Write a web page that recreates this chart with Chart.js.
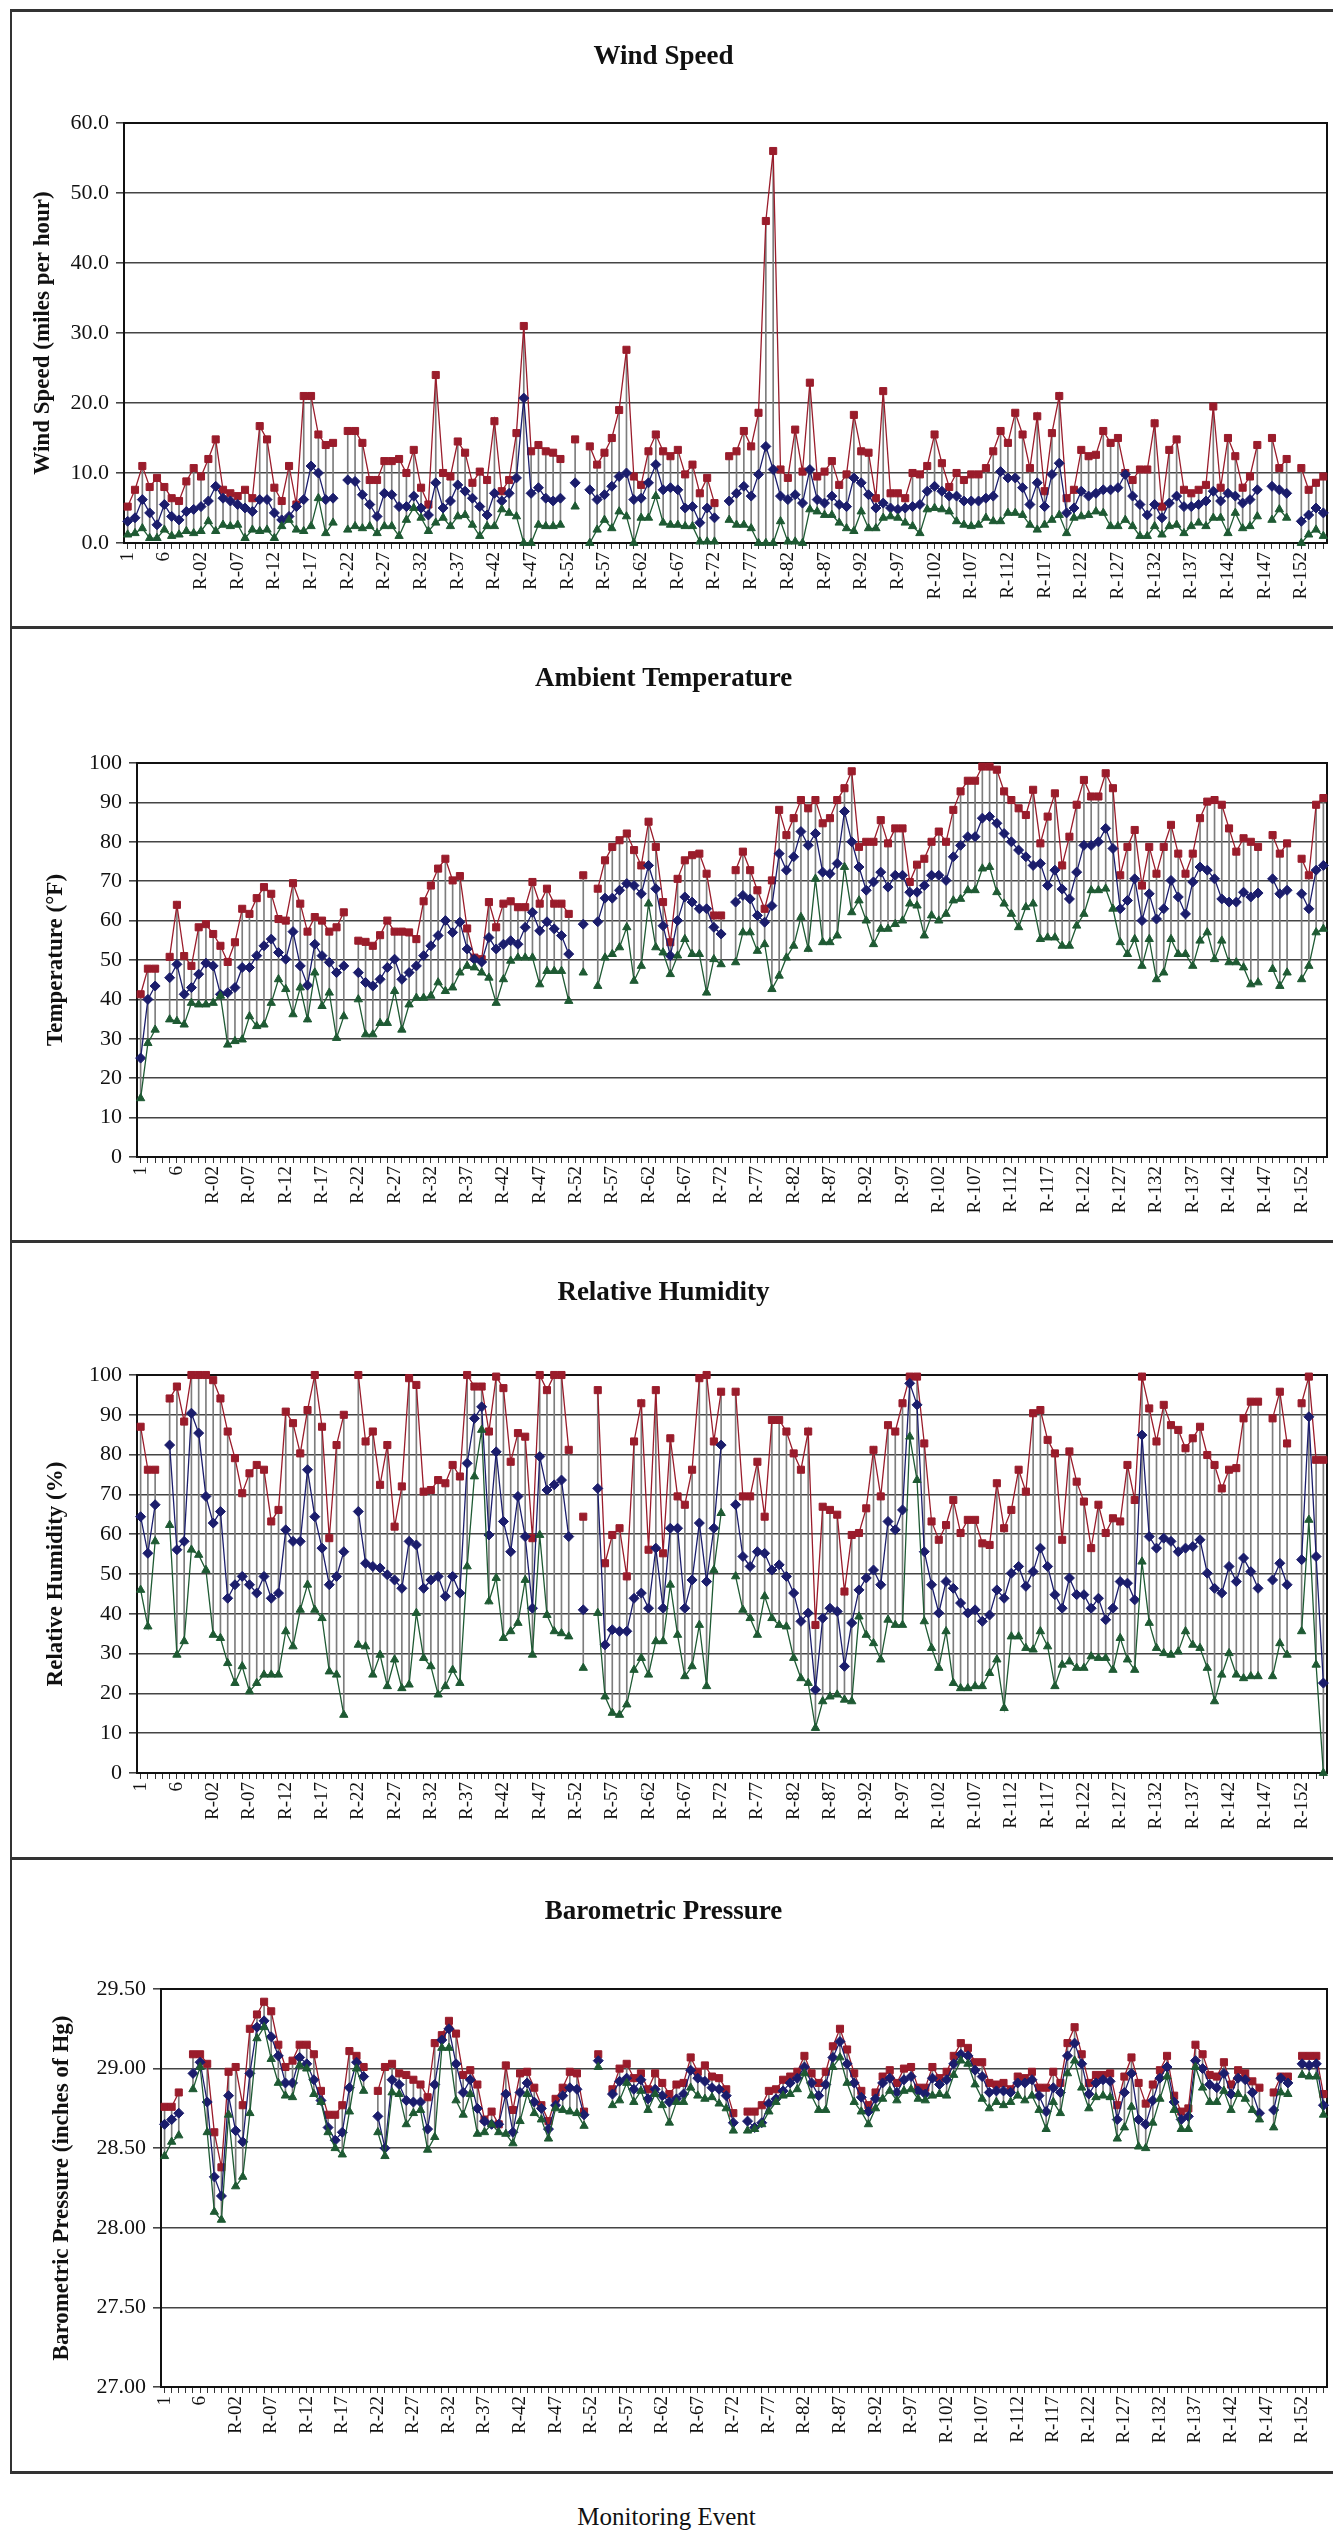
<!DOCTYPE html>
<html lang="en">
<head>
<meta charset="UTF-8">
<title>Monitoring Event Meteorological Data</title>
<script src="https://cdn.jsdelivr.net/npm/chart.js"></script>
<style>
  body { margin: 0; background: #fff; font-family: 'Liberation Serif', 'Times New Roman', serif; }
  #page { position: relative; width: 1333px; height: 2534px; overflow: hidden; background: #fff; }
  .panel { position: absolute; left: 0; width: 1333px; }
  .panel canvas { display: block; }
  .rule { position: absolute; background: #333; z-index: 2; }
  #xtitle { position: absolute; left: 0; top: 2502px; width: 1333px; text-align: center;
            font-size: 25px; line-height: 30px; color: #111; }
</style>
</head>
<body>
<div id="page">
  <div class="rule" style="left:10px; top:9px; width:1323px; height:3px;"></div>
  <div class="rule" style="left:10px; top:9px; width:2px; height:2465px;"></div>
  <div class="rule" style="left:10px; top:626px; width:1323px; height:3px;"></div>
  <div class="rule" style="left:10px; top:1240px; width:1323px; height:3px;"></div>
  <div class="rule" style="left:10px; top:1857px; width:1323px; height:3px;"></div>
  <div class="rule" style="left:10px; top:2471px; width:1323px; height:3px;"></div>
  <div id="xtitle">Monitoring Event</div>
</div>

<script>
// categories: events 1-9, then R-01 .. R-155
const eventLabels = ['1', '2', '3', '4', '5', '6', '7', '8', '9'];
for (let n = 1; n <= 155; n++) eventLabels.push('R-' + String(n).padStart(2, '0'));

// Wind speed (miles per hour)
const windMax = [
  5.2, 7.6, 11, 8, 9.3, 8, 6.4, 6, 8.8, 10.7,
  9.5, 12, 14.8, 7.6, 7.1, 6.7, 7.6, 6.4, 16.7, 14.8,
  7.9, 6, 11, 5.5, 21, 21, 15.5, 14, 14.3, null,
  16, 16, 14.3, 9, 9, 11.7, 11.7, 12, 10, 13.3,
  7.9, 5.5, 24, 10, 9.5, 14.5, 12.9, 8.6, 10.2, 9,
  17.4, 7.4, 9, 15.7, 31, 13.1, 14, 13.1, 12.9, 12,
  null, 14.8, null, 13.8, 11.2, 12.9, 15, 19, 27.6, 9.5,
  8.3, 13.1, 15.5, 13.1, 12.4, 13.3, 9.8, 11.2, 7.1, 9.3,
  5.7, null, 12.4, 13.1, 16, 13.8, 18.6, 46, 56, 10.5,
  9.3, 16.2, 10.2, 22.9, 9.5, 10.2, 11.7, 8.3, 9.8, 18.3,
  13.1, 12.9, 6.4, 21.7, 7.1, 7.1, 6.4, 10, 9.8, 11,
  15.5, 11.4, 8, 10, 9, 9.8, 9.8, 10.7, 13.1, 16,
  14.3, 18.6, 15.5, 10.7, 18.1, 7.4, 15.7, 21, 6.4, 7.6,
  13.3, 12.4, 12.6, 16, 14.3, 15, 10, 9, 10.5, 10.5,
  17.1, 5.2, 13.3, 14.8, 7.6, 7.1, 7.6, 8.3, 19.5, 7.9,
  15, 12.4, 7.9, 9.5, 14, null, 15, 10.7, 12, null,
  10.7, 7.6, 8.6, 9.5
];
const windAvg = [
  3.1, 3.6, 6.2, 4.3, 2.6, 5.5, 3.8, 3.3, 4.5, 4.8,
  5.2, 6, 8.1, 6.4, 6, 5.5, 5, 4.5, 6.2, 6.2,
  4.3, 3.3, 3.8, 5.2, 6.2, 11, 10, 6.2, 6.4, null,
  9, 8.8, 6.9, 5.5, 3.8, 7.1, 6.9, 5.2, 5.2, 6.7,
  5, 4, 8.6, 5, 6, 8.3, 7.4, 6.4, 5.2, 4,
  7.1, 6, 7.1, 9.3, 20.7, 7.1, 7.9, 6.4, 6, 6.4,
  null, 8.6, null, 7.6, 6.2, 6.9, 8.1, 9.5, 10, 6.2,
  6.4, 8.6, 11.2, 7.6, 7.9, 7.6, 5, 5.2, 2.9, 5,
  3.6, null, 6, 7.1, 8.1, 6.7, 9.8, 13.8, 10.5, 6.7,
  6.2, 6.9, 5.7, 10.5, 6.2, 5.7, 6.7, 5.5, 5.2, 9.3,
  8.6, 6.9, 5, 5.7, 5, 4.8, 5, 5.2, 5.5, 7.4,
  8.1, 7.4, 6.7, 6.7, 6, 6, 6, 6.4, 6.7, 10.2,
  9.3, 9.3, 7.9, 5.5, 8.6, 5.2, 9.8, 11.4, 4.3, 5,
  7.4, 6.7, 7.1, 7.6, 7.6, 7.9, 9.8, 6.7, 5.5, 4,
  5.5, 3.6, 5.7, 6.7, 5.2, 5.2, 5.5, 6, 7.4, 6,
  7.1, 6.7, 5.7, 6.2, 7.6, null, 8.1, 7.6, 7.1, null,
  3.1, 4, 5, 4.3
];
const windMin = [
  1.2, 1.4, 2.1, 0.7, 0.7, 1.9, 1, 1.2, 1.7, 1.4,
  1.7, 3.1, 1.7, 2.6, 2.4, 2.6, 0.7, 1.9, 1.7, 1.9,
  0.7, 2.4, 3.3, 1.9, 1.7, 2.4, 6.4, 1.4, 2.9, null,
  1.9, 2.4, 2.1, 2.4, 1.4, 2.4, 2.4, 1, 3.3, 5,
  3.6, 1.7, 2.9, 3.6, 2.4, 3.8, 4, 2.6, 1, 2.4,
  2.4, 4.8, 4.3, 3.8, 0, 0, 2.6, 2.4, 2.4, 2.6,
  null, 5.2, null, 0, 1.9, 3.3, 2.1, 4.5, 3.8, 0,
  3.6, 3.6, 6.7, 2.9, 2.6, 2.6, 2.4, 2.4, 0.2, 0.2,
  0.2, null, 3.3, 2.6, 2.6, 2.1, 0, 0, 0, 3.1,
  0.2, 0.2, 0, 4.8, 4.5, 4, 4, 2.9, 2.1, 1.7,
  4.5, 2.1, 2.1, 3.6, 3.8, 3.6, 2.9, 2.4, 1.4, 4.8,
  5, 4.8, 4.5, 3.1, 2.6, 2.4, 2.6, 3.6, 3.1, 3.1,
  4.3, 4.3, 4, 2.6, 1.9, 2.6, 3.3, 4, 1.4, 3.6,
  3.8, 4, 4.5, 4.3, 2.4, 2.4, 3.3, 2.4, 1, 1,
  2.4, 1.2, 2.4, 2.6, 1.4, 2.4, 2.9, 2.4, 3.6, 3.6,
  1.4, 4.3, 2.1, 2.4, 3.8, null, 3.3, 4.8, 3.6, null,
  0, 1.2, 1.9, 1
];

// Ambient temperature (deg F)
const tempMax = [
  41.3, 47.8, 47.8, null, 50.8, 64, 51, 48.5, 58.3, 59.1,
  56.6, 53.6, 49.5, 54.5, 63, 61.7, 65.7, 68.5, 66.8, 60.4,
  60, 69.5, 64.3, 57.2, 60.9, 60, 57.2, 58.3, 62.1, null,
  54.9, 54.6, 53.6, 56.3, 60, 57.2, 57.2, 57, 55.3, 64.9,
  68.9, 73.2, 75.7, 70.2, 71.3, 58, 50.6, 50.2, 64.7, 58.3,
  64.3, 64.9, 63.4, 63.4, 69.8, 64.3, 68.1, 64.3, 64.3, 61.7,
  null, 71.5, null, 68.1, 75.3, 78.7, 80.4, 82.1, 77.9, 74,
  85.1, 78.7, 64.7, 54.5, 70.6, 75.3, 76.6, 77, 71.9, 61.3,
  61.3, null, 72.8, 77.5, 72.8, 67.7, 63, 70.2, 88.1, 81.7,
  86, 90.6, 88.5, 90.6, 84.7, 86, 90.6, 93.6, 97.9, 78.7,
  80, 80, 85.5, 79.6, 83.4, 83.4, 69.8, 74.2, 75.7, 80,
  82.6, 80, 88.1, 92.8, 95.5, 95.5, 99.1, 99.1, 98.3, 92.8,
  90.6, 88.5, 86.8, 93.2, 79.6, 86.4, 92.3, 74, 81.3, 89.4,
  95.7, 91.5, 91.5, 97.4, 93.6, 71.5, 78.7, 83, 68.9, 78.7,
  71.9, 78.7, 84.3, 77, 71.9, 77, 86, 90.2, 90.6, 89.4,
  83.4, 77.5, 80.9, 80, 78.7, null, 81.7, 77, 79.6, null,
  75.7, 71.5, 89.4, 91.1
];
const tempAvg = [
  25.1, 40, 43.4, null, 45.5, 48.9, 41.3, 43, 46.4, 49.2,
  48.5, 41.3, 41.7, 43, 48.1, 48.1, 51.1, 53.6, 55.3, 51.9,
  50.2, 57.2, 48.5, 43.6, 54, 51.1, 49.4, 46.8, 48.5, null,
  46.8, 44.3, 43.4, 45.1, 48.1, 50.2, 45.1, 46.8, 48.5, 51.1,
  53.6, 56.2, 60, 57, 59.6, 52.8, 50.2, 49.5, 55.7, 52.8,
  54, 54.9, 54, 58.3, 62.1, 57.4, 59.7, 57.9, 56.2, 51.5,
  null, 59.1, null, 59.7, 65.7, 65.7, 67.7, 69.4, 68.9, 66.8,
  74, 68.1, 58.7, 51.1, 60, 66, 64.7, 63, 63, 58.3,
  56.6, null, 64.7, 66.4, 65.5, 61.3, 59.6, 63.8, 77, 72.8,
  76.2, 82.6, 79.1, 82.1, 72.3, 71.9, 74.5, 87.7, 80, 73.6,
  67.7, 69.8, 72.3, 68.5, 71.5, 71.5, 67.2, 67.2, 68.9, 71.5,
  71.5, 70.2, 76.2, 79.1, 81.3, 81.3, 86, 86.4, 84.7, 82.1,
  80, 77.9, 76.2, 74, 74.5, 68.9, 72.8, 68, 65.5, 72.3,
  79.1, 79.1, 80, 83.4, 78.3, 63, 65.1, 70.6, 60, 66.8,
  60.4, 63, 70.2, 66, 61.7, 69.8, 73.6, 72.8, 70.6, 65.5,
  64.7, 64.7, 67.2, 66, 67, null, 70.6, 66.8, 67.7, null,
  66.8, 63, 72.8, 74
];
const tempMin = [
  14.9, 28.9, 32.3, null, 34.9, 34.5, 33.6, 39.1, 38.7, 38.7,
  39.1, 40.9, 28.5, 29.4, 29.8, 35.7, 33.2, 33.6, 39.1, 45.1,
  42.6, 36.2, 43, 34.9, 46.8, 38.3, 41.7, 30.2, 35.7, null,
  40, 31.1, 31.1, 34, 34, 42.1, 32.3, 38.7, 40.4, 40.4,
  40.9, 44.3, 42.1, 43, 46.8, 48.5, 48.1, 46.8, 45.5, 39.1,
  45.1, 49.8, 50.6, 50.6, 50.6, 43.8, 47.2, 47.2, 47.2, 39.6,
  null, 46.8, null, 43.4, 50.6, 51.5, 53.2, 58.3, 44.7, 48.5,
  64.3, 53.2, 51.9, 46.4, 51.1, 55.3, 51.5, 51.5, 41.7, 50.2,
  48.9, null, 49.4, 57, 57, 52.3, 54, 42.6, 46, 50.6,
  53.6, 60.9, 52.8, 70.6, 54.5, 54.5, 56.2, 73.6, 62.1, 65.1,
  60, 54, 57.9, 57.9, 59.1, 60, 64.3, 63.8, 56.2, 61.3,
  60, 61.7, 65.1, 65.5, 67.7, 67.7, 73.2, 73.6, 67.2, 64.3,
  61.7, 58.3, 63.4, 64.3, 55.3, 55.7, 55.7, 53.6, 53.6, 58.7,
  61.7, 67.7, 67.7, 68.1, 63, 54.5, 51.5, 55.3, 48.5, 55.3,
  45.1, 46.8, 55.3, 51.5, 51.5, 48.5, 54.9, 57, 50.2, 54.9,
  49.4, 49.4, 48.1, 43.8, 44.3, null, 47.7, 43.4, 46.8, null,
  45.1, 48.5, 57, 57.9
];

// Relative humidity (%)
const humMax = [
  87, 76.2, 76.2, null, 94.1, 97.1, 88.3, 100, 100, 100,
  98.7, 94.1, 85.8, 79.1, 70.3, 75.3, 77.4, 76.2, 63.2, 66.1,
  90.8, 87.9, 80.3, 91.2, 100, 87, 59, 82.4, 90, null,
  100, 83.3, 85.8, 72.4, 82.4, 61.9, 72, 99.2, 97.5, 70.7,
  71.1, 73.6, 72.8, 77.4, 74.5, 100, 97.1, 97.1, 85.8, 99.6,
  96.7, 78.2, 85.4, 84.5, 59, 100, 96.2, 100, 100, 81.2,
  null, 64.4, null, 96.2, 52.7, 59.8, 61.5, 49.4, 83.3, 92.9,
  56.1, 96.2, 55.2, 84.1, 69.5, 67.4, 76.2, 99.2, 100, 83.3,
  95.8, null, 95.8, 69.5, 69.5, 78.2, 64.4, 88.7, 88.7, 85.8,
  80.3, 76.2, 85.8, 37.2, 66.9, 66.1, 64.9, 45.6, 59.8, 60.3,
  66.5, 81.2, 69.5, 87.4, 85.8, 92.9, 99.6, 99.6, 82.8, 63.2,
  58.6, 62.3, 68.6, 60.3, 63.6, 63.6, 57.7, 57.3, 72.8, 61.5,
  66.1, 76.2, 70.7, 90.4, 91.2, 83.7, 80.3, 58.6, 80.8, 73.2,
  68.2, 56.5, 67.4, 60.3, 64, 63.2, 77.4, 68.6, 99.6, 91.6,
  83.3, 92.5, 87.4, 86.2, 81.6, 84.1, 87, 79.9, 77.4, 71.5,
  76.2, 76.6, 89.1, 93.3, 93.3, null, 89.1, 95.8, 82.8, null,
  92.9, 99.6, 78.7, 78.7
];
const humAvg = [
  64.4, 55.2, 67.4, null, 82.4, 56.1, 58.2, 90.4, 85.4, 69.5,
  62.8, 65.7, 43.9, 47.3, 49.4, 47.3, 45.2, 49.4, 43.9, 45.2,
  61.1, 58.2, 58.2, 76.2, 64.4, 56.5, 47.3, 49.4, 55.6, null,
  65.7, 52.7, 51.9, 51.5, 49.8, 48.5, 46.4, 58.2, 57.3, 46.4,
  48.5, 49.4, 44.4, 49.4, 45.2, 77.8, 89.1, 92, 59.8, 80.7,
  63.2, 55.6, 69.5, 59.4, 41.4, 79.5, 71.1, 72.4, 73.6, 59.4,
  null, 41, null, 71.5, 32.2, 36, 35.6, 35.6, 43.9, 45.2,
  41.4, 56.5, 41.4, 61.5, 61.5, 41.4, 48.5, 62.8, 48.1, 61.5,
  82.4, null, 67.4, 54.4, 51.9, 55.6, 55.2, 51, 52.3, 49.4,
  45.2, 38.1, 40.2, 20.9, 38.9, 41.4, 40.6, 26.8, 37.7, 46,
  49, 51, 47.3, 63.2, 61.1, 66.1, 97.9, 92.5, 55.6, 47.3,
  40.2, 48.1, 46.4, 42.7, 40.2, 41, 38.1, 39.7, 46, 43.9,
  50.2, 51.9, 46.9, 50.6, 56.5, 51.9, 44.8, 41.4, 49, 44.8,
  44.8, 41.4, 43.9, 38.5, 41.4, 48.1, 47.7, 43.5, 84.9, 59.4,
  56.5, 59, 58.2, 55.6, 56.5, 56.9, 58.6, 50.2, 46.4, 45.2,
  51.9, 48.1, 54, 50.6, 46.4, null, 48.5, 52.7, 47.3, null,
  53.6, 89.5, 54.4, 22.6
];
const humMin = [
  46, 36.8, 58.2, null, 62.3, 29.7, 33.1, 56.1, 54.8, 51,
  34.7, 33.9, 27.6, 22.6, 26.8, 20.5, 22.6, 24.7, 24.7, 24.7,
  35.6, 31.8, 41, 47.3, 41, 38.9, 25.5, 24.7, 14.6, null,
  32.2, 31.8, 24.7, 29.7, 21.8, 28.5, 21.3, 22.2, 40.2, 28.9,
  26.8, 19.7, 21.8, 25.9, 22.6, 51.9, 74.5, 86.2, 43.1, 49,
  33.9, 35.6, 37.7, 48.5, 29.7, 59.8, 39.7, 35.6, 35.1, 34.3,
  null, 26.4, null, 40.2, 19.2, 15.1, 14.6, 17.2, 25.9, 28.9,
  24.7, 33.1, 33.1, 47.3, 34.7, 24.3, 26.8, 37.2, 21.8, 51,
  65.3, null, 49.4, 41, 38.9, 34.7, 44.4, 38.9, 37.2, 36.8,
  28.9, 23.8, 22.6, 11.3, 18, 19.2, 19.7, 18.4, 18, 39.3,
  34.7, 32.6, 28.5, 38.5, 37.2, 37.2, 84.5, 73.6, 38.1, 31.4,
  26.4, 35.6, 22.6, 21.3, 21.3, 21.8, 21.8, 25.1, 28.5, 16.3,
  34.3, 34.3, 31.4, 31, 35.6, 31.8, 21.8, 27.2, 28, 26.4,
  26.4, 29.3, 28.9, 28.9, 25.9, 33.9, 28.5, 25.9, 53.1, 37.7,
  31.4, 30.1, 29.7, 30.5, 35.6, 32.2, 31.4, 26.4, 18, 24.7,
  30.1, 24.7, 23.8, 24.3, 24.3, null, 24.3, 32.6, 29.7, null,
  35.6, 63.6, 27.2, 0
];

// Barometric pressure (inches of Hg)
const pressMax = [
  28.76, 28.76, 28.85, null, 29.09, 29.09, 29.03, 28.60, 28.38, 28.98,
  29.01, 28.77, 29.25, 29.34, 29.42, 29.36, 29.15, 29.01, 29.05, 29.15,
  29.15, 29.09, 28.86, 28.71, 28.71, 28.77, 29.11, 29.08, 29.01, null,
  28.86, 29.01, 29.03, 28.97, 28.96, 28.93, 28.90, 28.82, 29.16, 29.21,
  29.30, 29.22, 28.96, 28.99, 28.90, 28.68, 28.73, 28.65, 29.02, 28.74,
  28.97, 28.98, 28.88, 28.77, 28.67, 28.81, 28.88, 28.98, 28.97, 28.73,
  null, 29.09, null, 28.87, 29.00, 29.03, 28.94, 28.97, 28.87, 28.97,
  28.91, 28.84, 28.90, 28.91, 29.07, 28.98, 29.02, 28.95, 28.94, 28.87,
  28.72, null, 28.73, 28.73, 28.77, 28.86, 28.87, 28.93, 28.95, 28.98,
  29.08, 28.97, 28.91, 28.98, 29.14, 29.25, 29.12, 28.97, 28.86, 28.77,
  28.85, 28.95, 28.99, 28.91, 29.00, 29.01, 28.88, 28.88, 29.01, 28.94,
  28.98, 29.08, 29.16, 29.13, 29.04, 29.04, 28.91, 28.90, 28.91, 28.87,
  28.95, 28.94, 28.98, 28.88, 28.88, 28.98, 28.91, 29.16, 29.26, 29.09,
  28.91, 28.96, 28.96, 28.97, 28.77, 28.95, 29.07, 28.91, 28.78, 28.90,
  28.99, 29.08, 28.83, 28.73, 28.75, 29.15, 29.09, 28.96, 28.95, 29.04,
  28.90, 28.99, 28.97, 28.92, 28.88, null, 28.85, 28.95, 28.95, null,
  29.08, 29.08, 29.08, 28.84
];
const pressAvg = [
  28.65, 28.68, 28.72, null, 28.97, 29.04, 28.79, 28.32, 28.20, 28.83,
  28.61, 28.54, 28.97, 29.26, 29.30, 29.20, 29.08, 28.91, 28.91, 29.07,
  29.03, 28.93, 28.80, 28.63, 28.55, 28.60, 28.88, 29.04, 28.95, null,
  28.70, 28.50, 28.93, 28.90, 28.80, 28.79, 28.79, 28.62, 28.90, 29.18,
  29.25, 29.03, 28.85, 28.93, 28.75, 28.67, 28.65, 28.65, 28.84, 28.60,
  28.85, 28.91, 28.79, 28.75, 28.62, 28.77, 28.83, 28.88, 28.87, 28.71,
  null, 29.05, null, 28.84, 28.92, 28.94, 28.87, 28.93, 28.81, 28.87,
  28.83, 28.79, 28.81, 28.84, 28.99, 28.94, 28.92, 28.88, 28.87, 28.83,
  28.66, null, 28.67, 28.63, 28.66, 28.78, 28.81, 28.86, 28.91, 28.94,
  29.01, 28.91, 28.83, 28.90, 29.07, 29.17, 29.03, 28.91, 28.82, 28.73,
  28.81, 28.91, 28.94, 28.85, 28.93, 28.95, 28.86, 28.84, 28.94, 28.90,
  28.93, 29.03, 29.09, 29.08, 28.99, 28.95, 28.85, 28.86, 28.86, 28.85,
  28.91, 28.91, 28.93, 28.83, 28.73, 28.88, 28.85, 29.08, 29.16, 29.03,
  28.84, 28.91, 28.93, 28.92, 28.68, 28.85, 28.97, 28.68, 28.65, 28.80,
  28.94, 29.01, 28.79, 28.68, 28.70, 29.05, 29.00, 28.90, 28.88, 28.97,
  28.84, 28.94, 28.93, 28.85, 28.72, null, 28.74, 28.94, 28.91, null,
  29.03, 29.02, 29.03, 28.77
];
const pressMin = [
  28.45, 28.54, 28.58, null, 28.87, 29.01, 28.60, 28.10, 28.05, 28.71,
  28.26, 28.32, 28.72, 29.19, 29.26, 29.06, 28.91, 28.83, 28.82, 29.02,
  29.00, 28.84, 28.79, 28.60, 28.50, 28.46, 28.73, 29.00, 28.86, null,
  28.60, 28.45, 28.85, 28.84, 28.65, 28.72, 28.74, 28.49, 28.57, 29.13,
  29.13, 28.80, 28.71, 28.84, 28.59, 28.60, 28.65, 28.60, 28.59, 28.53,
  28.67, 28.84, 28.72, 28.68, 28.56, 28.75, 28.74, 28.73, 28.72, 28.64,
  null, 29.01, null, 28.77, 28.80, 28.91, 28.79, 28.86, 28.74, 28.84,
  28.77, 28.66, 28.79, 28.79, 28.88, 28.83, 28.81, 28.82, 28.78, 28.75,
  28.61, null, 28.61, 28.62, 28.65, 28.73, 28.79, 28.83, 28.84, 28.87,
  28.97, 28.83, 28.74, 28.74, 29.01, 29.07, 28.91, 28.79, 28.73, 28.65,
  28.75, 28.81, 28.86, 28.80, 28.86, 28.87, 28.81, 28.80, 28.83, 28.84,
  28.83, 28.96, 29.05, 29.03, 28.90, 28.81, 28.75, 28.79, 28.77, 28.79,
  28.83, 28.80, 28.83, 28.74, 28.62, 28.79, 28.72, 28.97, 29.05, 28.88,
  28.75, 28.82, 28.83, 28.82, 28.56, 28.63, 28.76, 28.51, 28.50, 28.66,
  28.81, 28.95, 28.74, 28.62, 28.62, 29.01, 28.88, 28.79, 28.79, 28.86,
  28.74, 28.84, 28.81, 28.74, 28.68, null, 28.63, 28.85, 28.84, null,
  28.96, 28.95, 28.95, 28.71
];

const SERIF = "'Liberation Serif', 'Times New Roman', Times, serif";
const RED = '#9a1c2b';
const BLUE = '#1b1d6c';
const GREEN = '#1e5a33';
const PLOT_RIGHT = 1327;

const panels = [
  { title: 'Wind Speed', yTitle: 'Wind Speed (miles per hour)',
    hi: windMax, mid: windAvg, lo: windMin, yMin: 0, yMax: 60, yStep: 10, decimals: 1,
    boxTop: 12, boxBottom: 626, titleY: 57, plotTop: 123, plotBottom: 543, plotLeft: 124, yTitleX: 43 },
  { title: 'Ambient Temperature', yTitle: 'Temperature (°F)',
    hi: tempMax, mid: tempAvg, lo: tempMin, yMin: 0, yMax: 100, yStep: 10, decimals: 0,
    boxTop: 629, boxBottom: 1240, titleY: 679, plotTop: 763, plotBottom: 1157, plotLeft: 137, yTitleX: 56 },
  { title: 'Relative Humidity', yTitle: 'Relative Humidity (%)',
    hi: humMax, mid: humAvg, lo: humMin, yMin: 0, yMax: 100, yStep: 10, decimals: 0,
    boxTop: 1243, boxBottom: 1857, titleY: 1293, plotTop: 1375, plotBottom: 1773, plotLeft: 137, yTitleX: 56 },
  { title: 'Barometric Pressure', yTitle: 'Barometric Pressure (inches of Hg)',
    hi: pressMax, mid: pressAvg, lo: pressMin, yMin: 27, yMax: 29.5, yStep: 0.5, decimals: 2,
    boxTop: 1860, boxBottom: 2471, titleY: 1912, plotTop: 1989, plotBottom: 2387, plotLeft: 161, yTitleX: 62 }
];

// black border round the plot area
const plotFrame = {
  id: 'plotFrame',
  beforeDatasetsDraw(chart) {
    const { ctx, chartArea: a } = chart;
    ctx.save();
    ctx.strokeStyle = '#111';
    ctx.lineWidth = 2;
    ctx.strokeRect(a.left, a.top, a.right - a.left, a.bottom - a.top);
    ctx.restore();
  }
};

function lineSet(label, data, color, style, order) {
  return {
    type: 'line', label: label, data: data, order: order,
    borderColor: color, backgroundColor: color, borderWidth: 1.3,
    pointStyle: style, pointRadius: style === 'triangle' ? 4.8 : 5,
    pointBorderColor: color, pointBackgroundColor: color, pointBorderWidth: 1,
    spanGaps: false, tension: 0, clip: false
  };
}

const page = document.getElementById('page');

panels.forEach(p => {
  const box = document.createElement('div');
  box.className = 'panel';
  box.style.top = p.boxTop + 'px';
  box.style.height = (p.boxBottom - p.boxTop) + 'px';
  const canvas = document.createElement('canvas');
  box.appendChild(canvas);
  page.appendChild(box);

  const titleSize = 27, titleLH = titleSize * 1.2;
  const padTop = p.titleY - p.boxTop - titleLH / 2;
  const padBottom = p.plotTop - p.boxTop - padTop - titleLH;
  const yTitleLH = 23 * 1.2;

  // high-low lines between maximum and minimum
  const range = p.hi.map((v, i) => (v == null || p.lo[i] == null) ? null : [p.lo[i], v]);

  new Chart(canvas, {
    data: {
      labels: eventLabels,
      datasets: [
        { type: 'bar', label: 'Range', data: range, backgroundColor: '#7d7d7d',
          barThickness: 1, borderWidth: 0, order: 4 },
        lineSet('Maximum', p.hi, RED, 'rect', 3),
        lineSet('Average', p.mid, BLUE, 'rectRot', 2),
        lineSet('Minimum', p.lo, GREEN, 'triangle', 1)
      ]
    },
    options: {
      responsive: true,
      maintainAspectRatio: false,
      animation: false,
      layout: { padding: { left: 0, right: 1333 - PLOT_RIGHT, top: 0, bottom: 0 } },
      plugins: {
        legend: { display: false },
        tooltip: { enabled: false },
        title: {
          display: true, text: p.title, color: '#111',
          font: { family: SERIF, size: titleSize, weight: 'bold', lineHeight: 1.2 },
          padding: { top: padTop, bottom: padBottom }
        }
      },
      scales: {
        x: {
          offset: true,
          grid: { display: true, drawOnChartArea: false, drawTicks: true, tickLength: 6,
                  color: '#333', lineWidth: 1, offset: false },
          border: { display: true, color: '#111', width: 2 },
          ticks: {
            autoSkip: false, maxRotation: 90, minRotation: 90, padding: 3, color: '#111',
            font: { family: SERIF, size: 19 },
            callback: (v, i) => i % 5 === 0 ? eventLabels[i] : ''
          },
          afterFit: s => { s.height = p.boxBottom - p.plotBottom; s.paddingLeft = 0; s.paddingRight = 0; }
        },
        y: {
          min: p.yMin, max: p.yMax,
          grid: { color: '#444', lineWidth: 1.6, tickLength: 8 },
          border: { display: true, color: '#111', width: 2 },
          ticks: {
            stepSize: p.yStep, padding: 7, color: '#111',
            font: { family: SERIF, size: 22 },
            callback: v => Number(v).toFixed(p.decimals)
          },
          title: {
            display: true, text: p.yTitle, color: '#111',
            font: { family: SERIF, size: 23, weight: 'bold', lineHeight: 1.2 },
            padding: { top: p.yTitleX - yTitleLH / 2, bottom: 0 }
          },
          afterFit: s => { s.width = p.plotLeft; }
        }
      }
    },
    plugins: [plotFrame]
  });
});
</script>
</body>
</html>
